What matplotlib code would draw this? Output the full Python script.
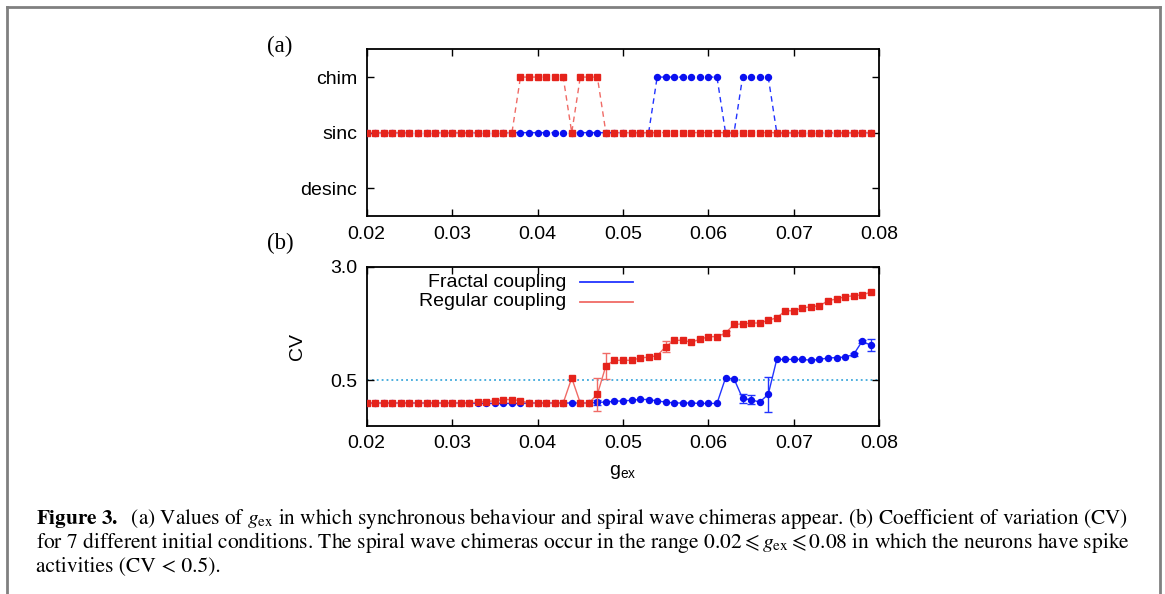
import numpy as np
import matplotlib
matplotlib.use("Agg")
import matplotlib.pyplot as plt
from matplotlib.lines import Line2D

# ---------------- data ----------------
gex = [0.020, 0.021, 0.022, 0.023, 0.024, 0.025, 0.026, 0.027, 0.028, 0.029,
       0.030, 0.031, 0.032, 0.033, 0.034, 0.035, 0.036, 0.037, 0.038, 0.039,
       0.040, 0.041, 0.042, 0.043, 0.044, 0.045, 0.046, 0.047, 0.048, 0.049,
       0.050, 0.051, 0.052, 0.053, 0.054, 0.055, 0.056, 0.057, 0.058, 0.059,
       0.060, 0.061, 0.062, 0.063, 0.064, 0.065, 0.066, 0.067, 0.068, 0.069,
       0.070, 0.071, 0.072, 0.073, 0.074, 0.075, 0.076, 0.077, 0.078, 0.079]

state_labels = ["desinc", "sinc", "chim"]
# 0 = desinc, 1 = sinc, 2 = chim
state_regular = [1, 1, 1, 1, 1, 1, 1, 1, 1, 1,
                 1, 1, 1, 1, 1, 1, 1, 1, 2, 2,
                 2, 2, 2, 2, 1, 2, 2, 2, 1, 1,
                 1, 1, 1, 1, 1, 1, 1, 1, 1, 1,
                 1, 1, 1, 1, 1, 1, 1, 1, 1, 1,
                 1, 1, 1, 1, 1, 1, 1, 1, 1, 1]
state_fractal = [1, 1, 1, 1, 1, 1, 1, 1, 1, 1,
                 1, 1, 1, 1, 1, 1, 1, 1, 1, 1,
                 1, 1, 1, 1, 1, 1, 1, 1, 1, 1,
                 1, 1, 1, 1, 2, 2, 2, 2, 2, 2,
                 2, 2, 1, 1, 2, 2, 2, 2, 1, 1,
                 1, 1, 1, 1, 1, 1, 1, 1, 1, 1]

cv_regular = [0.0, 0.0, 0.0, 0.0, 0.0, 0.0, 0.0, 0.0, 0.0, 0.0,
              0.0, 0.0, 0.0, 0.02, 0.03, 0.05, 0.075, 0.075, 0.05, 0.0,
              0.0, 0.0, 0.0, 0.0, 0.55, 0.0, 0.0, 0.19, 0.82, 0.94,
              0.94, 0.94, 0.99, 1.01, 1.04, 1.24, 1.38, 1.38, 1.34, 1.40,
              1.46, 1.46, 1.54, 1.73, 1.74, 1.76, 1.76, 1.82, 1.875, 2.03,
              2.03, 2.09, 2.12, 2.14, 2.25, 2.29, 2.34, 2.36, 2.38, 2.44]
cv_regular_err = [0, 0, 0, 0, 0, 0, 0, 0, 0, 0,
                  0, 0, 0, 0, 0, 0, 0, 0, 0, 0,
                  0, 0, 0, 0, 0, 0, 0, 0.37, 0.29, 0,
                  0, 0, 0, 0, 0, 0.12, 0, 0, 0, 0,
                  0, 0, 0.05, 0, 0, 0, 0, 0, 0, 0,
                  0, 0, 0, 0, 0, 0, 0, 0, 0, 0]

cv_fractal = [0.0, 0.0, 0.0, 0.0, 0.0, 0.0, 0.0, 0.0, 0.0, 0.0,
              0.0, 0.0, 0.0, -0.01, -0.01, -0.01, -0.01, -0.01, -0.01, 0.0,
              0.0, 0.0, 0.0, 0.0, 0.0, 0.0, 0.0, 0.015, 0.02, 0.04,
              0.045, 0.06, 0.08, 0.075, 0.045, 0.02, 0.0, 0.0, 0.0, -0.01,
              -0.01, -0.01, 0.55, 0.53, 0.10, 0.07, 0.02, 0.19, 0.96, 0.96,
              0.96, 0.96, 0.94, 0.96, 0.99, 1.00, 1.01, 1.07, 1.36, 1.27]
cv_fractal_err = [0, 0, 0, 0, 0, 0, 0, 0, 0, 0,
                  0, 0, 0, 0, 0, 0, 0, 0, 0, 0,
                  0, 0, 0, 0, 0, 0, 0, 0.06, 0, 0,
                  0, 0, 0, 0, 0, 0, 0, 0, 0, 0,
                  0, 0, 0, 0, 0.09, 0.10, 0, 0.38, 0, 0,
                  0, 0, 0, 0, 0, 0, 0, 0.04, 0.03, 0.13]

x_ticks = [0.02, 0.03, 0.04, 0.05, 0.06, 0.07, 0.08]
x_tick_labels = ["0.02", "0.03", "0.04", "0.05", "0.06", "0.07", "0.08"]
cv_ticks = [0.5, 3.0]
cv_tick_labels = ["0.5", "3.0"]
cv_threshold = 0.5
legend_labels = ["Fractal coupling", "Regular coupling"]

caption_lines = [
    r"$\mathbf{Figure\ 3.}$  (a) Values of $g_{\rm ex}$ in which synchronous behaviour and spiral wave chimeras appear. (b) Coefficient of variation (CV)",
    r"for 7 different initial conditions. The spiral wave chimeras occur in the range $0.02 \leqslant g_{\rm ex} \leqslant 0.08$ in which the neurons have spike",
    r"activities (CV < 0.5).",
]

# ---------------- style ----------------
plt.rcParams["font.family"] = ["Liberation Sans", "DejaVu Sans"]
plt.rcParams["mathtext.fontset"] = "stix"

RED = "#e5231b"
RED_LINE = "#f06b66"
BLUE = "#0a10f0"
BLUE_LINE = "#2234ff"
CYAN = "#1c9ad6"
FS = 14

W, H = 1165, 594
fig = plt.figure(figsize=(W / 100, H / 100), dpi=100)


def fx(px):
    return px / W


def fy(py):
    return 1 - py / H


L, R = 366.7, 879.3
axA = fig.add_axes([fx(L), fy(216), (R - L) / W, (216 - 49.3) / H])
axB = fig.add_axes([fx(L), fy(425.7), (R - L) / W, (425.7 - 266.7) / H])

for ax in (axA, axB):
    for s in ax.spines.values():
        s.set_linewidth(1.3)
        s.set_color("black")
    ax.tick_params(direction="in", top=True, right=True, length=5, width=1,
                   labelsize=FS, pad=7)
    ax.set_xlim(0.02, 0.08)
    ax.set_xticks(x_ticks)
    ax.set_xticklabels(x_tick_labels)

# panel (a)
axA.plot(gex, state_fractal, ls=(0, (4, 3)), color=BLUE_LINE, lw=1,
         marker="o", ms=4.3, mfc=BLUE, mec=BLUE, zorder=3)
axA.plot(gex, state_regular, ls=(0, (4, 3)), color=RED_LINE, lw=1,
         marker="s", ms=5.0, mfc=RED, mec=RED, zorder=4)
axA.set_ylim(-0.5, 2.5)
axA.set_yticks([0, 1, 2])
axA.set_yticklabels(state_labels)

# panel (b)
g = np.array(gex)
axB.axhline(cv_threshold, color=CYAN, ls=(0, (1.2, 2)), lw=1.1, zorder=1)

cf = np.array(cv_fractal)
ef = np.array(cv_fractal_err)
mf = ef > 0
axB.errorbar(g[mf], cf[mf], yerr=ef[mf], fmt="none", ecolor=BLUE_LINE,
             elinewidth=1, capsize=3, capthick=1, zorder=2)
axB.plot(gex, cv_fractal, "-", color=BLUE_LINE, lw=1, marker="o", ms=4.3,
         mfc=BLUE, mec=BLUE, zorder=3)

cr = np.array(cv_regular)
er = np.array(cv_regular_err)
mr = er > 0
axB.errorbar(g[mr], cr[mr], yerr=er[mr], fmt="none", ecolor=RED_LINE,
             elinewidth=1, capsize=3, capthick=1, zorder=4)
axB.plot(gex, cv_regular, "-", color=RED_LINE, lw=1, marker="s", ms=5.0,
         mfc=RED, mec=RED, zorder=5)

axB.set_ylim(-0.5, 3.0)
axB.set_yticks(cv_ticks)
axB.set_yticklabels(cv_tick_labels)

# legend (no frame, text right-aligned, line sample to the right)
for lab, col, yy in zip(legend_labels, [BLUE_LINE, RED_LINE], [0.902, 0.780]):
    axB.text(0.390, yy, lab, transform=axB.transAxes, ha="right", va="center",
             fontsize=FS)
    axB.add_line(Line2D([0.416, 0.519], [yy, yy], transform=axB.transAxes,
                        color=col, lw=1.3))

# labels
fig.text(fx(298), fy(347), "CV", rotation=90, ha="center", va="center", fontsize=FS)
fig.text(fx(623), fy(472), r"$\mathregular{g_{ex}}$", ha="center", va="center", fontsize=FS)
fig.text(fx(280), fy(46), "(a)", ha="center", va="center", fontsize=16.5,
         family="Liberation Serif")
fig.text(fx(280), fy(243), "(b)", ha="center", va="center", fontsize=16.5,
         family="Liberation Serif")

# caption
cap_y = [524, 548, 571]
targets = [1092, 1094, None]
texts = []
for line, yb in zip(caption_lines, cap_y):
    t = fig.text(fx(36), fy(yb), line, ha="left", va="baseline", fontsize=12.5,
                 family="STIXGeneral")
    texts.append(t)
rend = fig.canvas.get_renderer()
size_last = 12.5
for t, tw in zip(texts, targets):
    if tw is None:
        t.set_fontsize(size_last)
        continue
    w = t.get_window_extent(rend).width
    size_last = t.get_fontsize() * tw / w
    t.set_fontsize(size_last)

# page frame
GRAY = "#808080"
fig.add_artist(Line2D([fx(7), fx(7)], [fy(7), 0], transform=fig.transFigure, color=GRAY, lw=2))
fig.add_artist(Line2D([fx(7), fx(1160)], [fy(7), fy(7)], transform=fig.transFigure, color=GRAY, lw=2))
fig.add_artist(Line2D([fx(1160), fx(1160)], [fy(7), 0], transform=fig.transFigure, color=GRAY, lw=2))

fig.savefig("out.png", dpi=100)
